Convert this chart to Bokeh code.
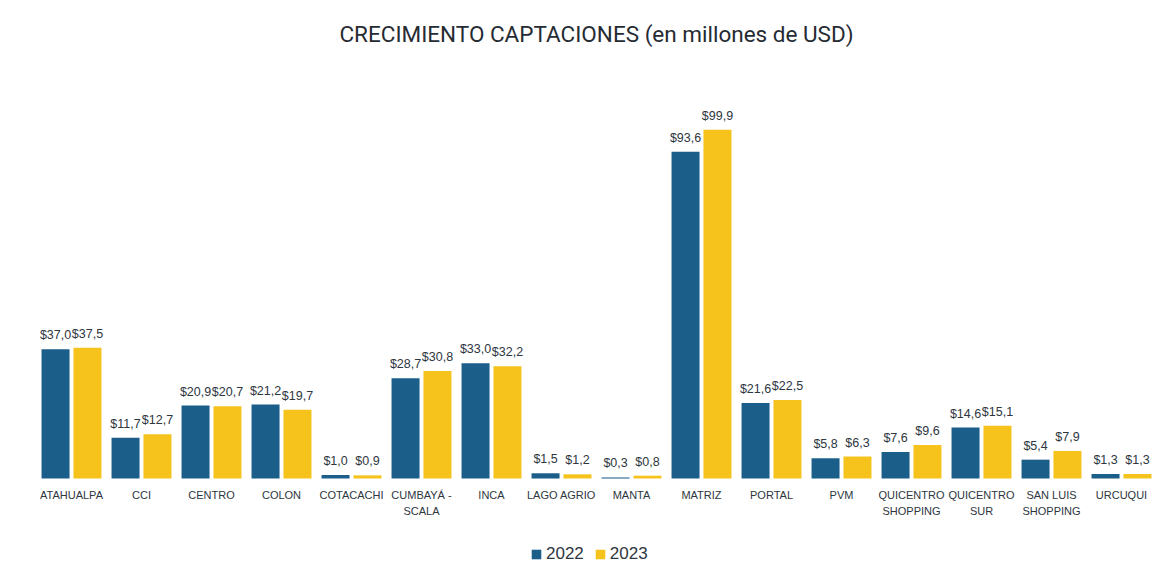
import numpy as np
from bokeh.plotting import figure
from bokeh.models import ColumnDataSource, Legend, LegendItem, Label
from bokeh.core.properties import value
from bokeh.embed import file_html
from bokeh.resources import INLINE

title_text = "CRECIMIENTO CAPTACIONES (en millones de USD)"
categories = ["ATAHUALPA", "CCI", "CENTRO", "COLON", "COTACACHI", "CUMBAYÁ -\nSCALA",
              "INCA", "LAGO AGRIO", "MANTA", "MATRIZ", "PORTAL", "PVM",
              "QUICENTRO\nSHOPPING", "QUICENTRO\nSUR", "SAN LUIS\nSHOPPING", "URCUQUI"]
values_2022 = [37.0, 11.7, 20.9, 21.2, 1.0, 28.7, 33.0, 1.5, 0.3, 93.6, 21.6, 5.8, 7.6, 14.6, 5.4, 1.3]
values_2023 = [37.5, 12.7, 20.7, 19.7, 0.9, 30.8, 32.2, 1.2, 0.8, 99.9, 22.5, 6.3, 9.6, 15.1, 7.9, 1.3]
series_names = ["2022", "2023"]

BLUE = "#1b5e8a"
YELLOW = "#f5c31b"
TXT = "#2e3640"

def fmt(v):
    return "$" + f"{v:.1f}".replace(".", ",")

idx = np.arange(len(categories))
off = 0.228
w = 0.40

src22 = ColumnDataSource(dict(x=idx - off, top=values_2022, lab=[fmt(v) for v in values_2022]))
src23 = ColumnDataSource(dict(x=idx + off, top=values_2023, lab=[fmt(v) for v in values_2023]))
srccat = ColumnDataSource(dict(x=idx, y=np.zeros(len(idx)), lab=categories))

H = 578
p = figure(width=1156, height=H, output_backend="svg", toolbar_location=None,
           x_range=(-0.5, 15.5), y_range=(-28.65, 136.96),
           min_border_left=36, min_border_right=0, min_border_top=0, min_border_bottom=0)

r1 = p.vbar(x="x", top="top", width=w, source=src22, color=BLUE, line_color=None)
r2 = p.vbar(x="x", top="top", width=w, source=src23, color=YELLOW, line_color=None)

for s in (src22, src23):
    p.text(x="x", y="top", text="lab", source=s, text_align="center", text_baseline="bottom",
           y_offset=-7, text_font=value("Liberation Sans"), text_font_size="12.5px", text_color=TXT)

p.text(x="x", y="y", text="lab", source=srccat, text_align="center", text_baseline="top",
       y_offset=10, text_font=value("Liberation Sans"), text_font_size="11px",
       text_color=TXT, text_line_height=1.36)

p.add_layout(Label(x=(len(categories) - 1) / 2, y=H - 33, x_units="data", y_units="screen",
                   text=title_text, text_align="center", text_baseline="middle",
                   text_font="Roboto", text_font_size="22.5px", text_color="#262b33"))

p.xaxis.visible = False
p.yaxis.visible = False
p.grid.visible = False
p.outline_line_color = None

legend = Legend(items=[LegendItem(label=series_names[0], renderers=[r1]),
                       LegendItem(label=series_names[1], renderers=[r2])],
                orientation="horizontal", location=(494, 14),
                label_text_font="Liberation Sans", label_text_font_size="17px",
                label_text_color=TXT, glyph_width=12, glyph_height=12,
                spacing=10, label_standoff=4, border_line_color=None,
                background_fill_alpha=0, margin=0, padding=4)
p.add_layout(legend, "center")

open("out.html", "w").write(file_html(p, INLINE))
